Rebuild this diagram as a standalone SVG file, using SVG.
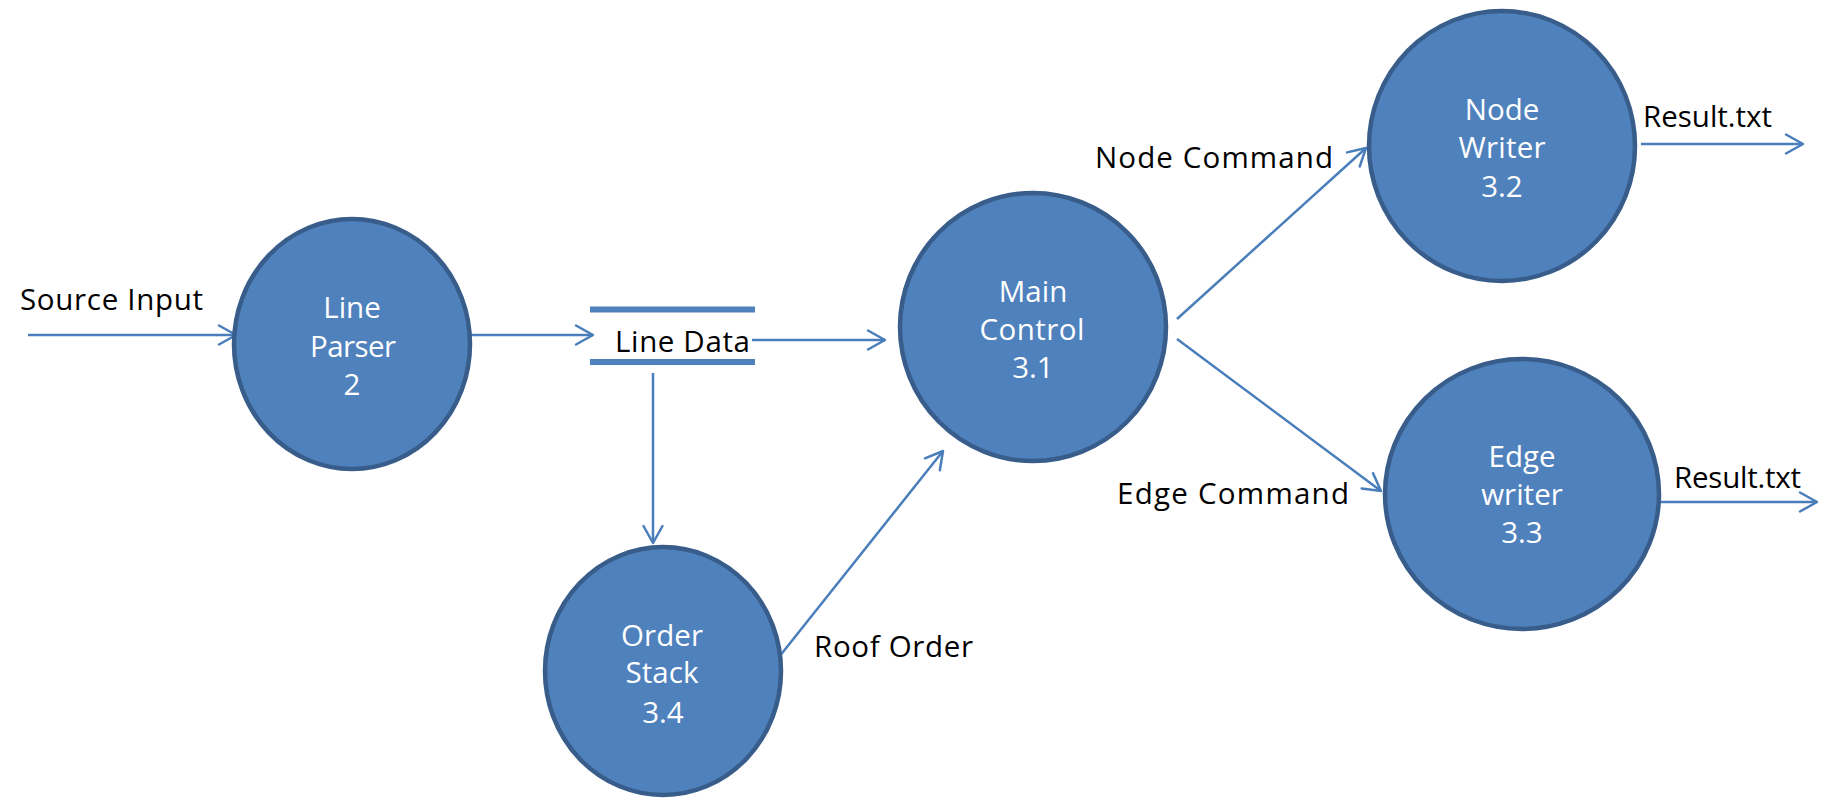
<svg xmlns="http://www.w3.org/2000/svg" width="1824" height="799" viewBox="0 0 1824 799">
  <style>
    .proc { fill: #4F81BD; stroke: #385D8A; stroke-width: 4.5; }
    .ptext { font-family: "Open Sans", "Noto Sans", sans-serif; font-size: 29.5px; fill: #FFFFFF; text-anchor: middle; }
    .label { font-family: "Open Sans", "Noto Sans", sans-serif; font-size: 29.5px; fill: #000000; }
    .flow { fill: none; stroke: #4A7EBB; stroke-width: 2.5; marker-end: url(#open-arrow); }
    .store { stroke: #4F81BD; stroke-width: 6; }
  </style>
  <defs>
    <marker id="open-arrow" markerUnits="userSpaceOnUse" markerWidth="24" markerHeight="24" refX="18" refY="10" orient="auto" overflow="visible">
      <path d="M1,0.5 L18,10 L1,19.5" fill="none" stroke="#4A7EBB" stroke-width="2.5" stroke-linecap="round" stroke-linejoin="round"/>
    </marker>
  </defs>
  <rect width="1824" height="799" fill="#FFFFFF"/>

  <!-- data flows -->
  <g id="connectors">
    <line class="flow" x1="28" y1="335" x2="236" y2="335"/>
    <line class="flow" x1="450" y1="335" x2="593" y2="335"/>
    <line class="flow" x1="752" y1="340" x2="885" y2="340"/>
    <line class="flow" x1="653" y1="373" x2="653" y2="543"/>
    <line class="flow" x1="779" y1="657" x2="943" y2="451"/>
    <line class="flow" x1="1177" y1="319" x2="1366" y2="148"/>
    <line class="flow" x1="1177" y1="339" x2="1381" y2="491"/>
    <line class="flow" x1="1641" y1="144" x2="1803" y2="144"/>
    <line class="flow" x1="1661" y1="502" x2="1817" y2="502"/>
  </g>

  <!-- flow labels -->
  <g id="flow-labels">
    <text class="label" x="20" y="310" textLength="183" lengthAdjust="spacing">Source Input</text>
    <text class="label" x="814" y="657" textLength="159" lengthAdjust="spacing">Roof Order</text>
    <text class="label" x="1095" y="168" textLength="238" lengthAdjust="spacing">Node Command</text>
    <text class="label" x="1117" y="504" textLength="232" lengthAdjust="spacing">Edge Command</text>
    <text class="label" x="1643" y="127" textLength="129" lengthAdjust="spacing">Result.txt</text>
    <text class="label" x="1674" y="488" textLength="127" lengthAdjust="spacing">Result.txt</text>
  </g>

  <!-- data store -->
  <g id="line-data">
    <line class="store" x1="590" y1="309.5" x2="755" y2="309.5"/>
    <line class="store" x1="590" y1="362" x2="755" y2="362"/>
    <text class="label" x="615" y="352" textLength="135" lengthAdjust="spacing">Line Data</text>
  </g>

  <!-- processes -->
  <g id="line-parser">
    <ellipse class="proc" cx="352" cy="344" rx="118" ry="125"/>
    <text class="ptext" x="352" y="318">Line</text>
    <text class="ptext" x="353" y="357" textLength="86" lengthAdjust="spacing">Parser</text>
    <text class="ptext" x="352" y="395">2</text>
  </g>

  <g id="order-stack">
    <ellipse class="proc" cx="663" cy="671" rx="118" ry="124"/>
    <text class="ptext" x="662" y="646" textLength="82" lengthAdjust="spacing">Order</text>
    <text class="ptext" x="662" y="683" textLength="73" lengthAdjust="spacing">Stack</text>
    <text class="ptext" x="663" y="723">3.4</text>
  </g>

  <g id="main-control">
    <ellipse class="proc" cx="1033" cy="327" rx="133" ry="134"/>
    <text class="ptext" x="1033" y="302">Main</text>
    <text class="ptext" x="1032" y="340" textLength="105" lengthAdjust="spacing">Control</text>
    <text class="ptext" x="1033" y="378">3.1</text>
  </g>

  <g id="node-writer">
    <ellipse class="proc" cx="1502" cy="146" rx="133" ry="135"/>
    <text class="ptext" x="1502" y="120">Node</text>
    <text class="ptext" x="1502" y="158" textLength="87" lengthAdjust="spacing">Writer</text>
    <text class="ptext" x="1502" y="197">3.2</text>
  </g>

  <g id="edge-writer">
    <ellipse class="proc" cx="1522" cy="494" rx="137" ry="135"/>
    <text class="ptext" x="1522" y="467">Edge</text>
    <text class="ptext" x="1522" y="505">writer</text>
    <text class="ptext" x="1522" y="543">3.3</text>
  </g>
</svg>
